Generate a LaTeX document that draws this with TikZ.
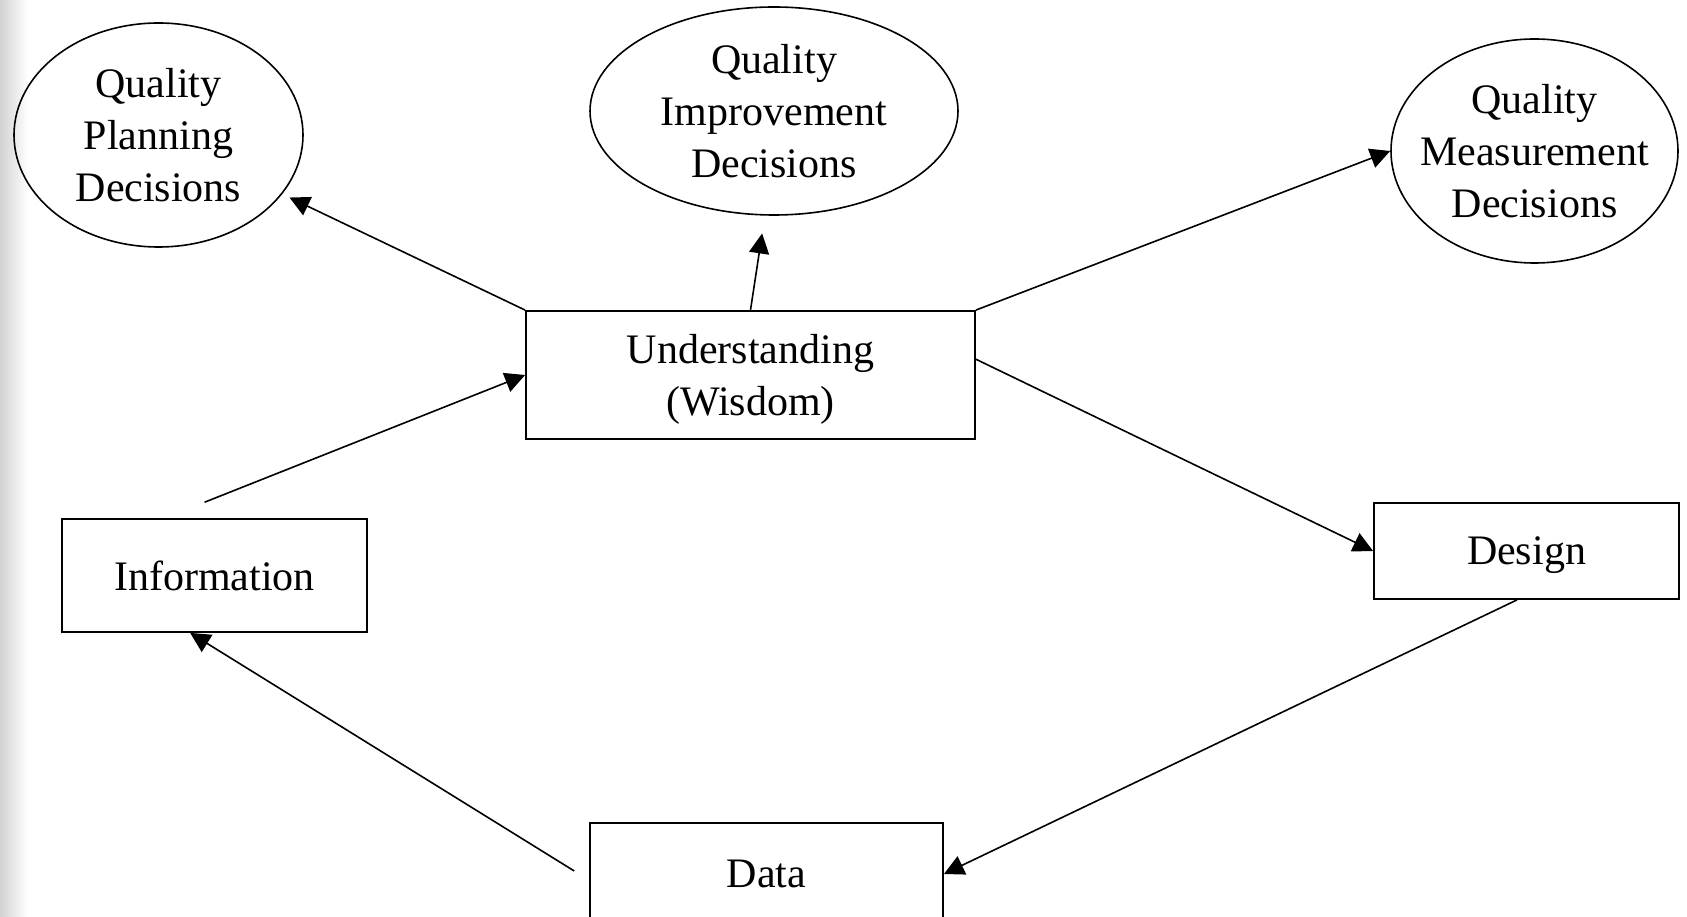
\documentclass[tikz,border=0pt]{standalone}
\usepackage{fontspec}
\setmainfont{Liberation Serif}
\usetikzlibrary{positioning,shapes.geometric,arrows.meta}

\begin{document}
\begin{tikzpicture}[
		every node/.style={font=\fontsize{21pt}{26pt}\selectfont, align=center, inner sep=0pt, text depth=-3pt, line width=0.9pt},
		box/.style={draw, rectangle},
		oval/.style={draw, ellipse, inner sep=-10pt, line width=0.8pt},
		flow/.style={-{Triangle[length=10pt,width=10pt]}, line width=0.8pt},
		on grid]
		\useasboundingbox (0,0) rectangle (843.5pt,458pt);
		\clip (0,0) rectangle (843.5pt,458pt);
		\shade[left color=gray!35, right color=white] (0,0) rectangle (14pt,458pt);
		
		\node[box, minimum width=224.5pt, minimum height=64pt] (u) at (375.25pt,270.5pt) {Understanding\\(Wisdom)};
		\node[oval, minimum width=144.5pt, minimum height=112pt, above left=120pt and 296pt of u] (p) {Quality\\Planning\\Decisions};
		\node[oval, minimum width=184pt, minimum height=104pt, above right=132pt and 11.75pt of u] (q) {Quality\\Improvement\\Decisions};
		\node[oval, minimum width=143.5pt, minimum height=112pt, above right=112pt and 392pt of u] (m) {Quality\\Measurement\\Decisions};
		\node[box, minimum width=152.5pt, minimum height=56.5pt, below left=100.25pt and 268pt of u] (i) {Information};
		\node[box, minimum width=152.5pt, minimum height=48pt, below right=88pt and 388pt of u] (g) {Design};
		\node[box, minimum width=176.5pt, minimum height=51pt, below right=249.5pt and 8pt of u] (d) {Data};
		
		\draw[flow, shorten >=4pt] (u.north west) -- (p);
		\draw[flow, shorten >=9pt] (u.north) -- (q.-95);
		\draw[flow] (u.north east) -- (m.west);
		\draw[flow] (u.4) -- (g.west);
		\draw[flow] (g.-101) -- (d.east);
		\draw[flow, shorten <=8.75pt] (d.182) -- (i.-113);
		\draw[flow, shorten <=21.5pt] (i.131) -- (u.west);
	\end{tikzpicture}
\end{document}
